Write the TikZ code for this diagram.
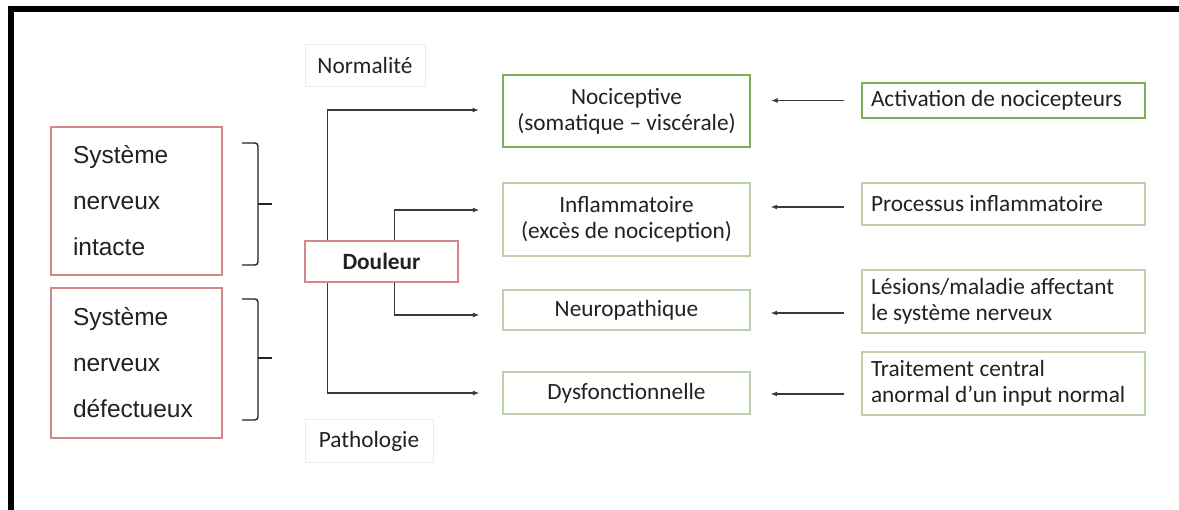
\documentclass[tikz,border=0pt]{standalone}
\usepackage{fontspec}
\setmainfont{Carlito}
\newfontfamily\arialf{Liberation Sans}
\usetikzlibrary{arrows.meta,calc}
\definecolor{redb}{HTML}{D4868B}
\definecolor{greenb}{HTML}{7DAE5A}
\definecolor{lgreen}{HTML}{BCCFAE}
\definecolor{lgray}{HTML}{ECECEC}
\definecolor{txt}{HTML}{222222}
\definecolor{linec}{HTML}{3A3A3A}
\begin{document}
\begin{tikzpicture}[x=1pt,y=-1pt,
  every node/.style={text=txt},
  sysbox/.style={draw=redb, line width=1.5pt, minimum width=171pt, inner xsep=22pt, inner ysep=0pt,
    text width=127pt, align=flush left, font=\arialf\fontsize{24.5}{46}\selectfont},
  midbox/.style={draw=lgreen, line width=1.2pt, minimum width=247pt, inner sep=0pt,
    align=center, font=\fontsize{23.3}{26}\selectfont},
  rbox/.style={draw=lgreen, line width=1.2pt, minimum width=283pt, inner xsep=9pt, inner ysep=0pt,
    text width=265pt, align=flush left, font=\fontsize{23.3}{26}\selectfont},
  thickg/.style={draw=greenb, line width=2pt},
  tag/.style={draw=lgray, line width=1pt, inner sep=0pt, font=\fontsize{23.3}{26}\selectfont},
  arr/.style={draw=linec, line width=1.3pt, -{Latex[length=6.5pt,width=5pt]}},
  brk/.style={draw=txt, line width=1.4pt, rounded corners=3pt}
]
\useasboundingbox (0,0) rectangle (1179,510);
\fill[white] (0,0) rectangle (1179,510);
% frame
\fill[black] (8,6) rectangle (1179,12);
\fill[black] (8,6) rectangle (14,510);

% left boxes
\node[sysbox, minimum height=148pt] (sys1) at (136.5,201) {Système\\nerveux\\intacte};
\node[sysbox, minimum height=150pt] (sys2) at (136.5,363) {Système\\nerveux\\défectueux};

% brackets
\draw[brk] (242,143) -- (258,143) -- (258,265) -- (242,265);
\draw[brk] (258,204) -- (272,204);
\draw[brk] (242,299) -- (258,299) -- (258,420) -- (242,420);
\draw[brk] (258,358) -- (272,358);

% tags
\node[tag, minimum width=120pt, minimum height=42pt] (norm) at (365,66) {Normalité};
\node[tag, minimum width=128pt, minimum height=43pt] (path) at (369,441.5) {Pathologie};

% Douleur
\node[draw=redb, line width=1.5pt, minimum width=153pt, minimum height=41pt, inner sep=0pt,
  font=\bfseries\fontsize{23.3}{26}\selectfont] (doul) at (381.5,261.5) {Douleur};

% middle boxes
\node[midbox, thickg, minimum height=72pt] (noci) at (626.5,111) {Nociceptive\\(somatique – viscérale)};
\node[midbox, minimum height=73pt] (infl) at (626.5,219.5) {Inflammatoire\\(excès de nociception)};
\node[midbox, minimum height=40pt] (neuro) at (626.5,310) {Neuropathique};
\node[midbox, minimum height=42pt] (dysf) at (626.5,393) {Dysfonctionnelle};

% right boxes
\node[rbox, thickg, minimum height=35pt] (act) at (1003.5,100.5) {Activation de nocicepteurs};
\node[rbox, minimum height=42pt] (proc) at (1003.5,204) {Processus inflammatoire};
\node[rbox, minimum height=63pt] (les) at (1003.5,301.5) {Lésions/maladie affectant\\le système nerveux};
\node[rbox, minimum height=63pt] (trait) at (1003.5,383.5) {Traitement central\\anormal d’un input normal};

% Douleur branches
\coordinate (dA) at ($(doul.north west)+(23,0)$);
\coordinate (dAs) at ($(doul.south west)+(23,0)$);
\coordinate (dB) at ($(doul.north west)+(90,0)$);
\coordinate (dBs) at ($(doul.south west)+(90,0)$);
\draw[arr] (dA) |- ($(noci.west)+(-23,-1)$);
\draw[arr] (dAs) |- ($(dysf.west)+(-23,0)$);
\draw[arr] (dB) |- ($(infl.west)+(-23,-9.5)$);
\draw[arr] (dBs) |- ($(neuro.west)+(-23,5)$);

% right-to-left arrows
\draw[arr] ($(act.west)+(-17,0)$) -- ($(act.west -| noci.east)+(20,0)$);
\draw[arr] ($(proc.west)+(-17,3)$) -- ($(proc.west -| infl.east)+(20,3)$);
\draw[arr] ($(les.west)+(-17,11.5)$) -- ($(les.west -| neuro.east)+(20,11.5)$);
\draw[arr] ($(trait.west)+(-17,10.5)$) -- ($(trait.west -| dysf.east)+(20,10.5)$);
\end{tikzpicture}
\end{document}
